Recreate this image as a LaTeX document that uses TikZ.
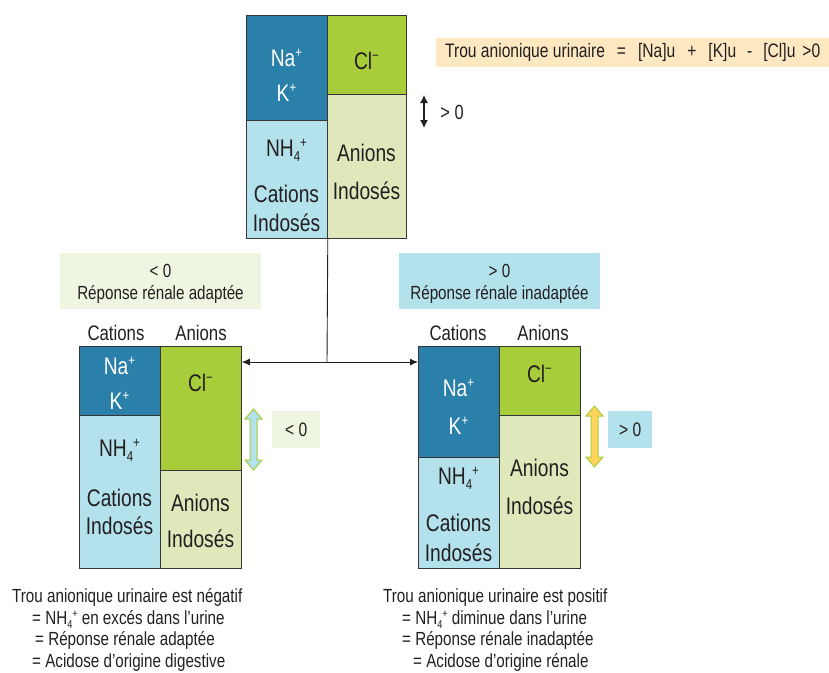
\documentclass[tikz,border=0pt]{standalone}
\usepackage{fontspec}
\setmainfont[FakeStretch=0.8]{Liberation Sans}
\usetikzlibrary{arrows.meta}
\definecolor{dblue}{HTML}{2A80A8}
\definecolor{lblue}{HTML}{B3E1EC}
\definecolor{cgreen}{HTML}{A7CE3A}
\definecolor{lgreen}{HTML}{DEE8BB}
\definecolor{bgreen}{HTML}{EEF5E0}
\definecolor{beige}{HTML}{FDE8C2}
\definecolor{cyellow}{HTML}{FFD45C}
\definecolor{ink}{HTML}{231F20}
\newcommand\fatarr[4]{%
  \draw[fill=#4, draw=cgreen, line width=1pt, line join=miter]
    (#1,#2) -- ++(8.5,10) -- ++(-5,0) -- (#1+3.5,#3-10) -- ++(5,0) -- (#1,#3)
    -- ++(-8.5,-10) -- ++(5,0) -- (#1-3.5,#2+10) -- ++(-5,0) -- cycle;}
% small raised / lowered marks, relative to current size
\newcommand\upmark[1]{\raisebox{0.36em}{\scalebox{0.6}{#1}}}
\newcommand\dnmark[1]{\raisebox{-0.22em}{\scalebox{0.6}{#1}}}
\newcommand\nhq{NH\dnmark{4}\upmark{+}}
\newcommand\clm{Cl\upmark{−}}
\newcommand\nap{Na\upmark{+}}
\newcommand\kp{K\upmark{+}}
\begin{document}
\begin{tikzpicture}[x=1pt,y=-1pt,
  cell/.style={draw=ink!90, line width=0.8pt, inner sep=0pt, anchor=north west, minimum width=81pt},
  big/.style={font=\fontsize{24}{28}\selectfont, text=ink, inner sep=0pt, anchor=base},
  bigw/.style={big, text=white},
  hdr/.style={font=\fontsize{21}{25}\selectfont, text=ink, inner sep=0pt, anchor=base},
  sml/.style={font=\fontsize{19}{23}\selectfont, text=ink, inner sep=0pt, anchor=base},
  smlw/.style={sml, anchor=base west},
  arr/.style={-{Latex[length=8pt,width=7pt]}, line width=0.9pt, draw=ink}
]
\useasboundingbox (0,0) rectangle (829,672);

% ---------- top block ----------
\node[cell, fill=dblue, minimum height=105pt] (tNK) at (246,15) {};
\node[cell, fill=lblue, minimum height=118pt] (tNH) at (246,120) {};
\node[cell, fill=cgreen, minimum width=79pt, minimum height=79pt] (tCl) at (327,15) {};
\node[cell, fill=lgreen, minimum width=79pt, minimum height=144pt] (tAI) at (327,94) {};
\node[bigw] (tNa) at (286.5,66) {\nap};
\node[bigw] (tK) at (286.5,101) {\kp};
\node[big] (tNH4) at (286.5,156) {\nhq};
\node[big] (tCat) at (286.5,202) {Cations};
\node[big] (tInd) at (286.5,231) {Indosés};
\node[big] (tClt) at (366.5,69) {\clm};
\node[big] (tAn) at (366.5,161) {Anions};
\node[big] (tInd2) at (366.5,199) {Indosés};

% formula box
\node[fill=beige, minimum width=393pt, minimum height=29pt, inner sep=0pt, anchor=north west, text=ink, font=\fontsize{19.5}{23}\selectfont] (form) at (436,38)
  {Trou anionique urinaire\hspace{12pt}=\hspace{12pt}[Na]u\hspace{12pt}+\hspace{12pt}[K]u\hspace{11pt}-\hspace{11pt}[Cl]u\hspace{7pt}>0};

% small double arrow
\coordinate (sa1) at (424,95);
\coordinate (sa2) at (424,128);
\draw[{Latex[length=8pt,width=8pt]}-{Latex[length=8pt,width=8pt]}, line width=1.2pt, draw=ink] (sa1) -- (sa2);
\node[font=\fontsize{20.5}{24}\selectfont, text=ink, inner sep=0pt, anchor=base] (tgt) at (452,119) {> 0};

% ---------- left block ----------
\node[cell, fill=dblue, minimum height=69pt] (lNK) at (79,346) {};
\node[cell, fill=lblue, minimum height=153pt] (lNH) at (79,415) {};
\node[cell, fill=cgreen, minimum height=124pt] (lCl) at (160,346) {};
\node[cell, fill=lgreen, minimum height=98pt] (lAI) at (160,470) {};
\node[bigw] (lNa) at (119.5,374) {\nap};
\node[bigw] (lK) at (119.5,409) {\kp};
\node[big] (lNH4) at (119.5,456) {\nhq};
\node[big] (lCat) at (119.5,506) {Cations};
\node[big] (lInd) at (119.5,534) {Indosés};
\node[big] (lClt) at (200.5,391) {\clm};
\node[big] (lAn) at (200.5,511) {Anions};
\node[big] (lInd2) at (200.5,547) {Indosés};
\node[hdr] (lhC) at (116,340.5) {Cations};
\node[hdr] (lhA) at (201,340.5) {Anions};

% ---------- right block ----------
\node[cell, fill=dblue, minimum height=111pt] (rNK) at (418,346) {};
\node[cell, fill=lblue, minimum height=111pt] (rNH) at (418,457) {};
\node[cell, fill=cgreen, minimum height=69pt] (rCl) at (499,346) {};
\node[cell, fill=lgreen, minimum height=153pt] (rAI) at (499,415) {};
\node[bigw] (rNa) at (458.5,396) {\nap};
\node[bigw] (rK) at (458.5,434) {\kp};
\node[big] (rNH4) at (458.5,484) {\nhq};
\node[big] (rCat) at (458.5,531) {Cations};
\node[big] (rInd) at (458.5,561) {Indosés};
\node[big] (rClt) at (539.5,382) {\clm};
\node[big] (rAn) at (539.5,476) {Anions};
\node[big] (rInd2) at (539.5,514) {Indosés};
\node[hdr] (rhC) at (458,340.5) {Cations};
\node[hdr] (rhA) at (543,340.5) {Anions};

% ---------- connectors ----------
\coordinate (junc) at (327,362);
\draw[line width=0.9pt, draw=ink] (tNH.south east) -- (junc);
\draw[arr] (junc) -- (lCl.east |- junc);
\draw[arr] (junc) -- (rNK.west |- junc);

% ---------- category boxes ----------
\node[fill=bgreen, minimum width=201pt, minimum height=56pt, inner sep=0pt, anchor=north west] (lbox) at (60,253) {};
\node[sml] (lboxa) at (160.5,277) {< 0};
\node[sml] (lboxb) at (160.5,299) {Réponse rénale adaptée};
\node[fill=lblue, minimum width=201pt, minimum height=56pt, inner sep=0pt, anchor=north west] (rbox) at (399,253) {};
\node[sml] (rboxa) at (499.5,277) {> 0};
\node[sml] (rboxb) at (499.5,299) {Réponse rénale inadaptée};

% ---------- fat arrows and small labels ----------
\fatarr{253.5}{409}{470}{lblue}
\node[fill=bgreen, minimum width=48pt, minimum height=37pt, inner sep=0pt, anchor=north west, font=\fontsize{19.5}{23}\selectfont, text=ink] (lsm) at (272,411) {< 0};
\fatarr{594.5}{406}{467}{cyellow}
\node[fill=lblue, minimum width=44pt, minimum height=37pt, inner sep=0pt, anchor=north west, font=\fontsize{19.5}{23}\selectfont, text=ink] (rsm) at (608,411) {> 0};

% ---------- bottom texts ----------
\node[smlw] (b1) at (12,602) {Trou anionique urinaire est négatif};
\node[smlw] (b2) at (32,624) {= \nhq{} en excés dans l’urine};
\node[smlw] (b3) at (35,645) {= Réponse rénale adaptée};
\node[smlw] (b4) at (32,667) {= Acidose d’origine digestive};
\node[smlw] (c1) at (383,602) {Trou anionique urinaire est positif};
\node[smlw] (c2) at (402,624) {= \nhq{} diminue dans l’urine};
\node[smlw] (c3) at (402,645) {= Réponse rénale inadaptée};
\node[smlw] (c4) at (413,667) {= Acidose d’origine rénale};
\end{tikzpicture}
\end{document}
